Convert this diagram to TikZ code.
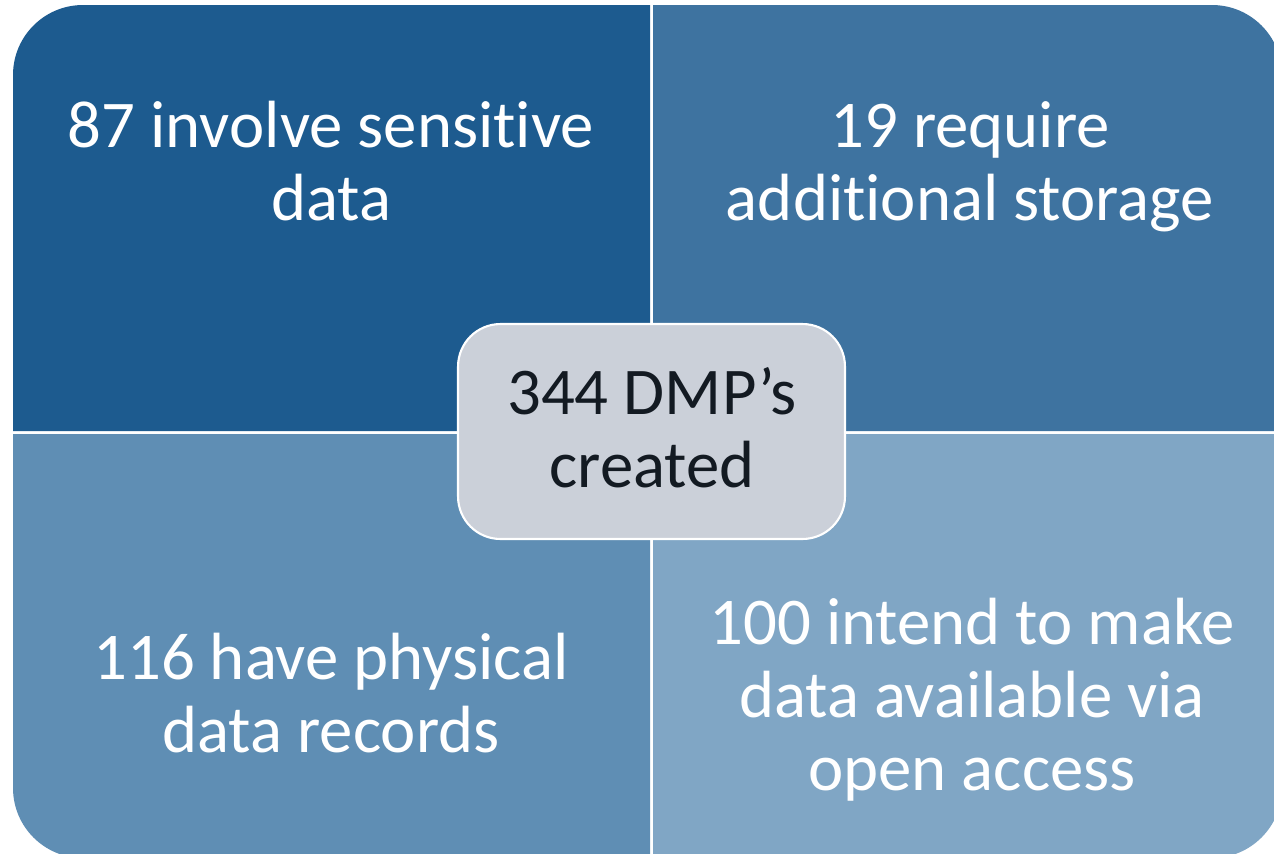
\documentclass[tikz,border=0pt]{standalone}
\usepackage{fontspec}
\setmainfont[Ligatures=NoCommon]{Carlito}
\definecolor{quadA}{HTML}{1D5B8F}
\definecolor{quadB}{HTML}{3E73A0}
\definecolor{quadC}{HTML}{5F8EB4}
\definecolor{quadD}{HTML}{80A6C5}
\definecolor{hubfill}{HTML}{CBD0D9}
\definecolor{hubtext}{HTML}{131A22}
\begin{document}
\begin{tikzpicture}[x=0.02cm, y=-0.02cm,
  every text node part/.style={align=center},
  quadtext/.style={anchor=base, inner sep=0pt, text=white,
    font=\fontsize{38}{41.5}\selectfont},
  hub/.style={draw=white, line width=1.2pt, fill=hubfill, rounded corners=0.85cm,
    minimum width=7.74cm, minimum height=4.3cm, inner sep=0pt}]

  \useasboundingbox (0,0) rectangle (1274,853);
  \clip (0,0) rectangle (1274,853);

  % Quadrants
  \fill[quadA] (650,5) -- (650,431) -- (13,431) [rounded corners=1.4cm] -- (13,5) [sharp corners] -- cycle;
  \fill[quadB] (653,431) -- (653,5) [rounded corners=1.4cm] -- (1282,5) [sharp corners] -- (1282,431) -- cycle;
  \fill[quadC] (650,434) -- (650,858) [rounded corners=1.4cm] -- (13,858) [sharp corners] -- (13,434) -- cycle;
  \fill[quadD] (653,434) -- (1282,434) [rounded corners=1.4cm] -- (1282,858) [sharp corners] -- (653,858) -- cycle;

  % base = last line
  \node[quadtext] (sens) at (331,220) {87 involve sensitive\\data};
  \node[quadtext] (stor) at (970,220) {19 require\\additional storage};
  \node[quadtext] (phys) at (331,752) {116 have physical\\data records};
  \node[quadtext] (open) at (972,790) {100 intend to make\\data available via\\open access};

  % Centre
  \node[hub] (dmp) at (651.5,431.5) {};
  \node[quadtext, text=hubtext] (dmptext) at (652,487) {344 DMP’s\\created};

\end{tikzpicture}
\end{document}
